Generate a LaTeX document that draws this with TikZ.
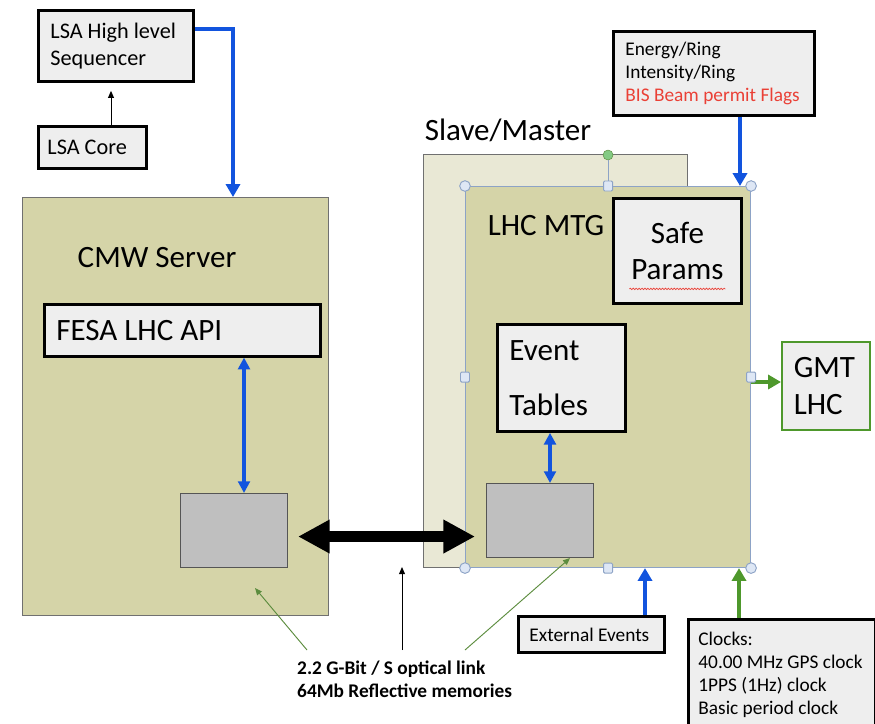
\documentclass[tikz,border=0pt]{standalone}
\usepackage{fontspec}
\setmainfont{Carlito}
\usetikzlibrary{arrows.meta,calc,decorations.pathmorphing}
\definecolor{tanfill}{RGB}{213,212,168}
\definecolor{palefill}{RGB}{233,232,213}
\definecolor{paper}{RGB}{238,238,238}
\definecolor{chip}{RGB}{191,191,191}
\definecolor{chipedge}{RGB}{85,85,85}
\definecolor{paneledge}{RGB}{112,112,112}
\definecolor{selblue}{RGB}{141,163,198}
\definecolor{handlefill}{RGB}{222,231,245}
\definecolor{linkblue}{RGB}{18,84,222}
\definecolor{clockgreen}{RGB}{78,152,44}
\definecolor{notegreen}{RGB}{92,140,62}
\definecolor{flagred}{RGB}{234,64,54}
\definecolor{rotgreen}{RGB}{132,202,132}
\begin{document}
\begin{tikzpicture}[
        x = 0.03cm, y = -0.03cm,
        box/.style = {draw, line width=2.4pt, fill=paper, anchor=north west,
          align=flush left, inner xsep=0.36cm, inner ysep=0pt},
        panel/.style = {draw=#1, line width=0.9pt, anchor=north west, inner sep=0pt},
        chip/.style = {draw=chipedge, line width=0.9pt, fill=chip, anchor=north west,
          inner sep=0pt, minimum width=3.21cm, minimum height=2.22cm},
        big/.style = {font=\fontsize{26.5}{#1}\selectfont},
        mid/.style = {font=\fontsize{19}{23}\selectfont},
        small/.style = {font=\fontsize{16.5}{19.4}\selectfont},
        feed/.style = {draw=#1, line width=3.3pt, -{Triangle[length=11pt,width=12pt]}},
        bus/.style = {draw=linkblue, line width=2.6pt,
          {Triangle[length=10pt,width=10pt]}-{Triangle[length=10pt,width=10pt]}},
        pointer/.style = {draw=#1, line width=0.8pt, -{Triangle[length=6pt,width=5pt]}},
        handle/.style = {draw=selblue, line width=0.8pt, fill=handlefill}]
  \path[use as bounding box] (0,0) rectangle (875,723);
  \clip (0,0) rectangle (875,723);

  \node[box, mid, minimum width=4.65cm, minimum height=2.13cm, text width=3.93cm]
    (lsahigh) at (37,9) {LSA High level\\Sequencer};
  \node[box, mid, minimum width=3.24cm, minimum height=1.26cm, inner xsep=0.27cm, text width=2.7cm]
    (lsacore) at (37,125) {LSA Core};

  \node[panel=paneledge, fill=tanfill, minimum width=9.18cm, minimum height=12.54cm]
    (cmw) at (22,197) {};
  \node[big=31] (cmwlabel) at (157,258) {CMW Server};
  \node[box, big=31, line width=2.2pt, minimum width=8.28cm, minimum height=1.56cm, text width=7.56cm]
    (fesa) at (43,303) {FESA LHC API};
  \node[chip] (lchip) at (180,493) {};

  \node[panel=paneledge, fill=palefill, minimum width=7.92cm, minimum height=12.39cm]
    (slave) at (423,154) {};
  \node[big=31] (slavelabel) at (508,130) {Slave/Master};
  \node[panel=selblue, fill=tanfill, minimum width=8.55cm, minimum height=11.43cm]
    (mtg) at (465,186) {};
  \node[big=31] (mtglabel) at (546,226) {LHC MTG};
  \node[box, big=31, align=flush center, minimum width=3.84cm, minimum height=3.15cm, text width=3.12cm]
    (safe) at (612,197) {Safe\\Params};
  \node[box, big=47, minimum width=3.84cm, minimum height=3.21cm, text width=3.12cm]
    (evt) at (496,323) {Event\\Tables};
  \node[chip] (rchip) at (486,483) {};

  \node[box, small, minimum width=6.03cm, minimum height=2.52cm, inner xsep=0.36cm, text width=5.31cm]
    (energy) at (612,30) {Energy/Ring\\Intensity/Ring\\\textcolor{flagred}{BIS Beam permit Flags}};
  \node[box, big=31.5, draw=clockgreen, line width=1.3pt, minimum width=2.64cm, minimum height=2.64cm, text width=1.92cm]
    (gmt) at (781,341) {GMT\\LHC};
  \node[box, small, minimum width=4.38cm, minimum height=1.08cm, inner xsep=0.33cm, text width=3.72cm]
    (extev) at (517,615) {External Events};
  \node[box, font=\fontsize{16.5}{19.6}\selectfont, inner xsep=0.3cm, text width=5cm, minimum height=3.33cm]
    (clocks) at (687,618) {Clocks:\\40.00 MHz GPS clock\\1PPS (1Hz) clock\\Basic period clock};
  \node[anchor=north west, align=flush left, inner sep=0pt, font=\bfseries\fontsize{16.5}{19}\selectfont]
    (note) at (297,661) {2.2 G-Bit / S optical link\\64Mb Reflective memories};

  \draw[pointer=black, shorten >=0.24cm] (111,0 |- lsacore.north) -- (111,0 |- lsahigh.south);
  \draw[feed=linkblue, line width=2.6pt] (lsahigh.east |- 0,29) -| (233,0 |- cmw.north);
  \draw[bus] (244,0 |- fesa.south) -- (244,0 |- lchip.north);
  \draw[bus, line width=2.8pt] (550,0 |- evt.south) -- (550,0 |- rchip.north);
  \draw[feed=linkblue] (740,0 |- energy.south) -- (740,0 |- mtg.north);
  \draw[feed=linkblue] (645,0 |- extev.north) -- (645,0 |- mtg.south);
  \draw[feed=clockgreen] (739,0 |- clocks.north) -- (739,0 |- mtg.south);
  \draw[feed=clockgreen, line width=2.6pt] (mtg.east |- 0,382) -- (gmt.west |- 0,382);
  \draw[black, line width=9.4pt, {Triangle[length=27pt,width=27pt]}-{Triangle[length=27pt,width=27pt]}]
    ($(lchip.east)+(10,6)$) -- ($(rchip.west)+(-11,16)$);

  \coordinate (cmwspot) at (255,588);
  \coordinate (gapspot) at (402,567);
  \draw[pointer=notegreen] ($(note.north west)+(10,-11)$) -- (cmwspot);
  \draw[pointer=black] ($(note.north west)+(105,-11)$) -- (gapspot);
  \draw[pointer=notegreen] ($(note.north west)+(168,-11)$) -- ($(rchip.south)+(30,0)$);

  \draw[flagred, line width=0.6pt, decorate, decoration={snake, amplitude=0.6pt, segment length=2.5pt}]
    ($(safe.center)+(-48,38)$) -- ($(safe.center)+(48,38)$);

  \node[circle, draw=notegreen, fill=rotgreen, minimum size=0.3cm, inner sep=0pt]
    (rotor) at ($(mtg.north)+(0,-31)$) {};
  \draw[selblue, line width=0.8pt] (mtg.north) -- (rotor.south);
  \foreach \c in {north west,north east,south west,south east}
    \draw[handle] (mtg.\c) circle (0.16cm);
  \foreach \c in {north,south,east,west}
    \draw[handle, rounded corners=1pt] ($(mtg.\c)+(-4.5,-5)$) rectangle ($(mtg.\c)+(4.5,5)$);
\end{tikzpicture}
\end{document}
